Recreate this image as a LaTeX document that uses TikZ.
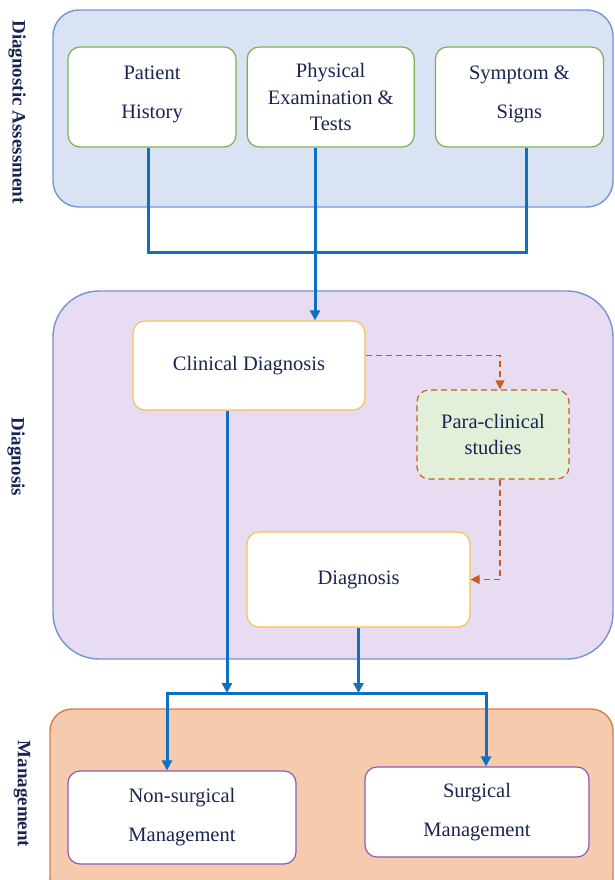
\documentclass[tikz,border=0pt]{standalone}
\usepackage{fontspec}
\setmainfont{Liberation Serif}
\usetikzlibrary{arrows.meta,positioning}

\definecolor{assessfill}{HTML}{DAE3F3}
\definecolor{panelline}{HTML}{7395D5}
\definecolor{diagfill}{HTML}{E8DCF2}
\definecolor{mgmtfill}{HTML}{F6CBAD}
\definecolor{mgmtline}{HTML}{D77E48}
\definecolor{greenline}{HTML}{79B152}
\definecolor{yellowline}{HTML}{F8C24A}
\definecolor{purpleline}{HTML}{8C5AB4}
\definecolor{parafill}{HTML}{E2EFD9}
\definecolor{rustline}{HTML}{C65E22}
\definecolor{flowblue}{HTML}{0F6FC0}
\definecolor{navytext}{HTML}{1A2452}

\begin{document}
\begin{tikzpicture}[
  x=1pt,y=-1pt,
  font=\fontsize{20.5}{26.5}\selectfont,
  node distance=10pt and 10pt,
  box/.style={draw,rounded corners=12pt,align=center,fill=white,text=navytext,line width=1.2pt,inner sep=0pt},
  assessbox/.style={box,draw=greenline,minimum width=168pt,minimum height=100pt},
  diagbox/.style={box,draw=yellowline},
  mgmtbox/.style={box,draw=purpleline},
  parabox/.style={box,draw=rustline,fill=parafill,dash pattern=on 6pt off 4pt},
  side/.style={rotate=-90,font=\fontsize{19}{22}\selectfont\bfseries,text=navytext},
  flow/.style={draw=flowblue,line width=3pt},
  flowarr/.style={flow,-{Triangle[length=10pt,width=10pt]}},
  dasharr/.style={draw=rustline,line width=1.3pt,dash pattern=on 6pt off 4pt,-{Triangle[length=9pt,width=9pt]}},
]
\clip (0,0) rectangle (614,880);

% panels
\draw[panelline,fill=assessfill,line width=1.4pt,rounded corners=26pt] (53,10) rectangle (613,207);
\draw[panelline,fill=diagfill,line width=1.4pt,rounded corners=46pt] (53,291) rectangle (613,659);
\draw[mgmtline,fill=mgmtfill,line width=1.4pt,rounded corners=22pt] (50,709) rectangle (613,900);

\node[side] (lblassess) at (17,112) {Diagnostic Assessment};
\node[side] (lbldiag) at (16,457) {Diagnosis};
\node[side] (lblmgmt) at (22,794) {Management};

% diagnostic assessment
\node[assessbox] (hist) at (152,97) {Patient\\[12.5pt]History\\[-17.5pt]};
\node[assessbox,minimum width=167pt,right=10pt of hist] (exam) {Physical\\Examination \&\\Tests};
\node[assessbox,right=20pt of exam] (sympt) {Symptom \&\\[12.5pt]Signs\\[-17.5pt]};

% diagnosis
\node[diagbox,minimum width=232pt,minimum height=89pt] (clin) at (249,365.5) {Clinical Diagnosis};
\node[parabox,minimum width=152pt,minimum height=89pt] (para) at (493,434.5) {Para-clinical\\studies};
\node[diagbox,minimum width=223pt,minimum height=95pt] (diag) at (358.5,579.5) {Diagnosis};

% management
\node[mgmtbox,minimum width=228pt,minimum height=93pt] (nonsurg) at (182,817.5) {Non-surgical\\[12.5pt]Management};
\node[mgmtbox,minimum width=224pt,minimum height=90pt] (surg) at (477,812) {Surgical\\[12.5pt]Management};

\coordinate (join) at (315,252);
\coordinate (barL) at (167,693);
\coordinate (barR) at (486,693);

\draw[flow] ([xshift=-4pt]hist.south) |- (join) -| ([xshift=7pt]sympt.south);
\draw[flowarr] (exam.south -| join) -- (join |- clin.north);
\draw[flowarr] ([xshift=-22pt]clin.south) -- ([xshift=-22pt]clin.south |- barL);
\draw[flowarr] (diag.south) -- (diag.south |- barL);
\draw[flow,{Triangle[length=10pt,width=10pt]}-{Triangle[length=10pt,width=10pt]}] (barL |- nonsurg.north) |- (barR) -- (barR |- surg.north);

\draw[dasharr] ([yshift=10pt]clin.east) -| ([xshift=7pt]para.north);
\draw[dasharr] ([xshift=7pt]para.south) |- (diag.east);
\end{tikzpicture}
\end{document}
